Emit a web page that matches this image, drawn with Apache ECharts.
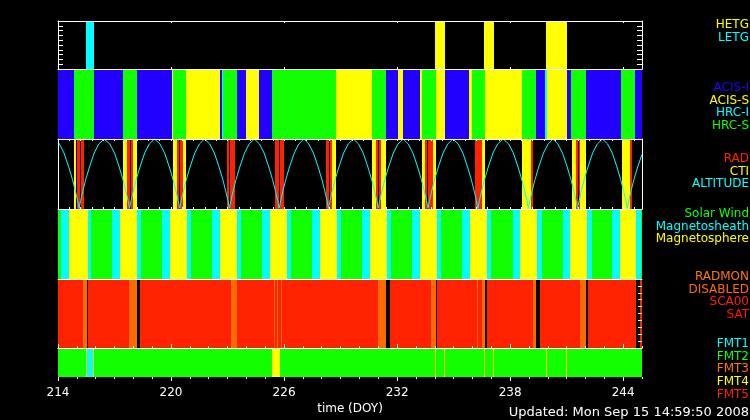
<!DOCTYPE html>
<html><head><meta charset="utf-8">
<script src="https://cdn.jsdelivr.net/npm/echarts@6/dist/echarts.min.js"></script>
<style>html,body{margin:0;padding:0;background:#000;}#c{width:750px;height:420px;}</style>
</head><body><div id="c"></div>
<script>
const DAY_MIN = 214, DAY_MAX = 245;
const tickLabels = [214, 220, 226, 232, 238, 244];
const updatedText = 'Updated: Mon Sep 15 14:59:50 2008';
const axisTitle = 'time (DOY)';

const gratingNames = ['HETG', 'LETG'];
const gratingColors = ['#ffff00', '#00ffff'];
const gratingIntervals = [[215.49,215.90,1],[234.01,234.54,0],[236.61,237.14,0],[239.90,241.02,0]];

const instrumentNames = ['ACIS-I', 'ACIS-S', 'HRC-I', 'HRC-S'];
const instrumentColors = ['#2200ff', '#ffff00', '#00ffff', '#11ff00'];
const instrumentIntervals = [
 [214.00,214.85,0],[214.85,215.91,3],[215.91,217.45,0],[217.45,218.19,3],[218.19,220.05,0],
 [220.05,220.10,1],[220.10,220.80,3],[220.80,222.60,1],[222.60,222.70,0],[222.70,222.76,2],
 [222.76,223.50,3],[223.50,223.98,0],[223.98,224.67,1],[224.67,225.36,0],[225.36,228.76,3],
 [228.76,230.67,1],[230.67,231.41,3],[231.41,232.05,0],[232.05,232.31,1],[232.31,233.21,0],
 [233.21,233.32,1],[233.32,234.06,3],[234.06,234.54,1],[234.54,235.81,0],[235.81,235.97,1],
 [235.97,236.66,3],[236.66,238.63,1],[238.63,239.37,3],[239.37,239.85,0],[239.85,239.96,2],
 [239.96,241.02,1],[241.02,241.23,0],[241.23,242.02,3],[242.02,243.88,0],[243.88,244.63,3],
 [244.63,245.00,0]
];

const radNames = ['RAD', 'CTI', 'ALTITUDE'];
const radColors = ['#ff2200', '#ffff00', '#00ffff'];
const radIntervals = [
 [214.85,214.96,1],[217.45,217.66,1],[217.98,218.19,1],[220.10,220.32,1],[220.64,220.79,1],
 [228.54,228.76,1],[230.67,230.88,1],[231.14,231.41,1],[233.32,233.48,1],[233.90,234.06,1],
 [236.51,236.67,1],[238.63,239.11,1],[241.28,241.50,1],[241.71,242.03,1],[243.94,244.36,1],
 [215.01,215.17,0],[215.22,215.38,0],[217.66,217.82,0],[217.88,217.98,0],[220.32,220.42,0],
 [220.48,220.64,0],[222.97,223.08,0],[223.13,223.40,0],[225.52,225.73,0],[225.78,226.00,0],
 [228.23,228.38,0],[228.44,228.54,0],[230.88,230.99,0],[231.04,231.14,0],[233.48,233.59,0],
 [233.64,233.90,0],[236.13,236.51,0],[239.11,239.21,0],[241.50,241.60,0],[241.65,241.71,0],
 [244.36,244.47,0]
];
const altitude = [
[214.00,96],[214.07,93],[214.32,80],[214.57,60],[214.77,42],[214.92,26],[215.04,12],[215.12,1],
[215.20,12],[215.32,26],[215.47,42],[215.67,60],[215.92,80],[216.17,93],[216.45,100],[216.75,93],[217.00,80],[217.25,60],[217.45,42],[217.60,26],[217.72,12],[217.80,1],
[217.88,12],[218.00,26],[218.15,42],[218.35,60],[218.60,80],[218.85,93],[219.12,100],[219.41,93],[219.66,80],[219.91,60],[220.11,42],[220.26,26],[220.38,12],[220.46,1],
[220.54,12],[220.66,26],[220.81,42],[221.01,60],[221.26,80],[221.51,93],[221.77,100],[222.05,93],[222.30,80],[222.55,60],[222.75,42],[222.90,26],[223.02,12],[223.10,1],
[223.18,12],[223.30,26],[223.45,42],[223.65,60],[223.90,80],[224.15,93],[224.42,100],[224.69,93],[224.94,80],[225.19,60],[225.39,42],[225.54,26],[225.66,12],[225.74,1],
[225.82,12],[225.94,26],[226.09,42],[226.29,60],[226.54,80],[226.79,93],[227.05,100],[227.31,93],[227.56,80],[227.81,60],[228.01,42],[228.16,26],[228.28,12],[228.36,1],
[228.44,12],[228.56,26],[228.71,42],[228.91,60],[229.16,80],[229.41,93],[229.68,100],[229.95,93],[230.20,80],[230.45,60],[230.65,42],[230.80,26],[230.92,12],[231.00,1],
[231.08,12],[231.20,26],[231.35,42],[231.55,60],[231.80,80],[232.05,93],[232.32,100],[232.59,93],[232.84,80],[233.09,60],[233.29,42],[233.44,26],[233.56,12],[233.64,1],
[233.72,12],[233.84,26],[233.99,42],[234.19,60],[234.44,80],[234.69,93],[234.96,100],[235.24,93],[235.49,80],[235.74,60],[235.94,42],[236.09,26],[236.21,12],[236.29,1],
[236.37,12],[236.49,26],[236.64,42],[236.84,60],[237.09,80],[237.34,93],[237.63,100],[237.92,93],[238.17,80],[238.42,60],[238.62,42],[238.77,26],[238.89,12],[238.97,1],
[239.05,12],[239.17,26],[239.32,42],[239.52,60],[239.77,80],[240.02,93],[240.27,100],[240.53,93],[240.78,80],[241.03,60],[241.23,42],[241.38,26],[241.50,12],[241.58,1],
[241.66,12],[241.78,26],[241.93,42],[242.13,60],[242.38,80],[242.63,93],[242.90,100],[243.17,93],[243.42,80],[243.67,60],[243.87,42],[244.02,26],[244.14,12],[244.22,1],
[244.30,12],[244.42,26],[244.57,42],[244.77,60],[245.00,78]
];

const regionNames = ['Solar Wind', 'Magnetosheath', 'Magnetosphere'];
const regionColors = ['#11ff00', '#00ffff', '#ffff00'];
const regionIntervals = [
 [214.00,214.16,0],[214.16,214.58,1],[214.58,215.59,2],[215.59,215.75,1],[215.75,216.87,0],
 [216.87,217.29,1],[217.29,218.19,2],[218.19,218.41,1],[218.41,219.52,0],[219.52,219.95,1],
 [219.95,220.85,2],[220.85,221.06,1],[221.06,222.17,0],[222.17,222.60,1],[222.60,223.50,2],
 [223.50,223.71,1],[223.71,224.83,0],[224.83,225.25,1],[225.25,226.16,2],[226.16,226.37,1],
 [226.37,227.48,0],[227.48,227.91,1],[227.91,228.81,2],[228.81,229.02,1],[229.02,230.14,0],
 [230.14,230.56,1],[230.56,231.46,2],[231.46,231.68,1],[231.68,232.79,0],[232.79,233.21,1],
 [233.21,234.12,2],[234.12,234.33,1],[234.33,235.44,0],[235.44,235.87,1],[235.87,236.77,2],
 [236.77,236.98,1],[236.98,238.15,0],[238.15,238.52,1],[238.52,239.43,2],[239.43,239.69,1],
 [239.69,240.81,0],[240.81,241.18,1],[241.18,242.08,2],[242.08,242.34,1],[242.34,243.41,0],
 [243.41,243.83,1],[243.83,244.68,2],[244.68,244.95,1],[244.95,245.00,0]
];

const radmonNames = ['RADMON', 'DISABLED', 'SCA00', 'SAT'];
const radmonColors = ['#ff7a00', '#ff6a00', '#ff2200', '#ff1500'];
const radmonIntervals = [
 [214.00,215.33,2],[215.59,217.77,2],[218.35,223.18,2],[223.50,230.99,2],[231.62,233.80,2],
 [234.12,236.51,2],[236.77,239.21,2],[239.58,241.71,2],[242.13,244.68,2],[244.89,245.00,2],
 [215.33,215.54,1],[217.77,218.19,1],[223.18,223.50,1],[225.45,225.49,1],[225.61,225.65,1],
 [225.82,225.86,1],[230.99,231.41,1],[233.80,234.06,1],[236.22,236.26,1],[236.51,236.67,1],
 [239.21,239.37,1],[241.71,242.03,1]
];

const fmtNames = ['FMT1', 'FMT2', 'FMT3', 'FMT4', 'FMT5'];
const fmtColors = ['#00ffff', '#11ff00', '#ff7700', '#ffff00', '#ff2200'];
const fmtIntervals = [
 [214.00,245.00,1],[215.54,215.86,0],[215.49,215.54,3],[215.86,215.91,3],[225.36,225.78,3],
 [234.01,234.06,3],[234.48,234.53,3],[236.61,236.66,3],[237.08,237.13,3],[239.90,239.95,3],
 [240.96,241.01,3]
];

const FONT = 'DejaVu Sans';
const WHITE = '#ffffff';
const dayTicks = []; for (let d = DAY_MIN; d <= DAY_MAX; d++) dayTicks.push(d);
const fineTicks = []; for (let k = 0; DAY_MIN + 0.6 * k <= DAY_MAX; k++) fineTicks.push(+(DAY_MIN + 0.6 * k).toFixed(2));
const majorInner = tickLabels.filter(d => d > DAY_MIN);

const grids = [
 {left: 58, width: 584, top: 21, height: 48},
 {left: 58, width: 584, top: 69, height: 70},
 {left: 58, width: 584, top: 139, height: 70},
 {left: 58, width: 584, top: 209, height: 70},
 {left: 58, width: 584, top: 279, height: 69},
 {left: 58, width: 584, top: 348, height: 29}
].map(g => Object.assign({containLabel: false, show: false}, g));

function xAx(gridIndex, position, line, tick, label, extra) {
  return Object.assign({
    type: 'value', gridIndex, position, min: DAY_MIN, max: DAY_MAX, z: 6,
    axisLine: {show: !!line, onZero: false, lineStyle: {color: WHITE, width: 1}},
    axisTick: tick ? Object.assign({show: true, lineStyle: {color: WHITE, width: 1}}, tick) : {show: false},
    axisLabel: label ? Object.assign({show: true, color: WHITE, fontSize: 12, fontFamily: FONT}, label) : {show: false},
    splitLine: {show: false}
  }, extra || {});
}
function yAx(gridIndex, position, max, line, tick) {
  return {
    type: 'value', gridIndex, position, min: 0, max, interval: tick ? max / 10 : max, z: 6,
    axisLine: {show: !!line, onZero: false, lineStyle: {color: WHITE, width: 1}},
    axisTick: tick ? Object.assign({show: true, lineStyle: {color: WHITE, width: 1}}, tick) : {show: false},
    axisLabel: {show: false}, splitLine: {show: false}
  };
}

const xAxes = [
  xAx(0, 'top', true, {customValues: majorInner, inside: true, length: 2}),
  xAx(0, 'bottom', true, {customValues: majorInner, inside: true, length: 2}),
  xAx(1, 'bottom', false),
  xAx(2, 'top', true, {customValues: fineTicks, inside: true, length: 2}),
  xAx(2, 'bottom', true, {customValues: fineTicks, inside: true, length: 2}),
  xAx(3, 'bottom', false),
  xAx(4, 'top', true),
  xAx(4, 'bottom', true, {customValues: dayTicks, inside: true, length: 2}),
  xAx(4, 'bottom', false, {customValues: tickLabels, inside: true, length: 4}),
  xAx(5, 'top', true),
  xAx(5, 'bottom', false, {customValues: dayTicks, inside: false, length: 2}),
  xAx(5, 'bottom', false, {customValues: tickLabels, inside: false, length: 4},
      {customValues: tickLabels, margin: 10},
      {name: axisTitle, nameLocation: 'middle', nameGap: 26,
       nameTextStyle: {color: WHITE, fontSize: 12, fontFamily: FONT}})
];
const yAxes = [
  yAx(0, 'left', 10, true, {inside: true, length: 5}),
  yAx(0, 'right', 10, true, {inside: true, length: 5}),
  yAx(1, 'left', 1, false),
  yAx(2, 'left', 100, true),
  yAx(2, 'right', 100, true),
  yAx(3, 'left', 1, false),
  yAx(4, 'left', 10, false),
  yAx(4, 'right', 10, false, {inside: true, length: 4}),
  yAx(5, 'left', 1, false)
];

function bands(xi, yi, yTop, data, colors) {
  return {
    type: 'custom', xAxisIndex: xi, yAxisIndex: yi, data, z: 2, silent: true, animation: false, clip: true,
    renderItem(params, api) {
      const a = api.coord([api.value(0), yTop]);
      const b = api.coord([api.value(1), 0]);
      const x0 = Math.round(a[0]);
      let x1 = Math.round(b[0]); if (x1 <= x0) x1 = x0 + 1;
      const y0 = Math.round(a[1]), y1 = Math.round(b[1]);
      return {type: 'rect', shape: {x: x0, y: y0, width: x1 - x0, height: y1 - y0},
              style: {fill: colors[api.value(2)]}};
    }
  };
}

const series = [
  bands(0, 0, 10, gratingIntervals, gratingColors),
  bands(2, 2, 1, instrumentIntervals, instrumentColors),
  bands(4, 3, 100, radIntervals, radColors),
  {type: 'line', name: 'ALTITUDE', xAxisIndex: 4, yAxisIndex: 3, data: altitude, z: 4,
   showSymbol: false, symbol: 'none', animation: false, silent: true, clip: true,
   lineStyle: {color: radColors[2], width: 1}},
  bands(5, 5, 1, regionIntervals, regionColors),
  bands(7, 6, 10, radmonIntervals, radmonColors),
  bands(10, 8, 1, fmtIntervals, fmtColors)
];

const legendGroups = [
  {names: gratingNames, colors: gratingColors, y: 25},
  {names: instrumentNames, colors: instrumentColors, y: 88},
  {names: radNames, colors: radColors, y: 159},
  {names: regionNames, colors: regionColors, y: 214},
  {names: radmonNames, colors: radmonColors, y: 277},
  {names: fmtNames, colors: fmtColors, y: 344}
];
const graphics = [];
legendGroups.forEach(g => g.names.forEach((n, i) => {
  graphics.push({type: 'text', x: 749, y: g.y + i * 12.6, silent: true,
    style: {text: n, fill: g.colors[i], fontSize: 12, fontFamily: FONT, align: 'right', verticalAlign: 'middle'}});
}));
graphics.push({type: 'text', x: 749, y: 413, silent: true,
  style: {text: updatedText, fill: WHITE, fontSize: 13, fontFamily: FONT, align: 'right', verticalAlign: 'middle'}});

const chart = echarts.init(document.getElementById('c'), null, {renderer: 'canvas'});
chart.setOption({
  backgroundColor: '#000000',
  animation: false,
  grid: grids,
  xAxis: xAxes,
  yAxis: yAxes,
  series,
  graphic: graphics
});
</script></body></html>
